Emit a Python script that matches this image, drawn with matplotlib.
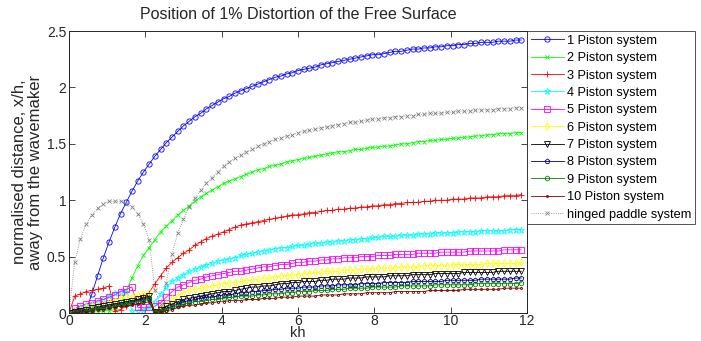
import numpy as np
import matplotlib
matplotlib.use("Agg")
import matplotlib.pyplot as plt

plt.rcParams['font.family'] = ['Liberation Sans', 'DejaVu Sans']

# kh sampled every 0.15 from 0 to 11.85
kh = np.round(np.arange(80) * 0.15, 2)

piston_1 = [0.00,
    0.00, 0.00, 0.02, 0.17, 0.33, 0.49, 0.63, 0.76, 0.88, 0.98,
    1.08, 1.17, 1.25, 1.32, 1.39, 1.45, 1.51, 1.56, 1.61, 1.66,
    1.70, 1.74, 1.77, 1.81, 1.84, 1.87, 1.90, 1.92, 1.95, 1.97,
    1.99, 2.01, 2.03, 2.05, 2.07, 2.09, 2.10, 2.12, 2.13, 2.15,
    2.16, 2.17, 2.18, 2.20, 2.21, 2.22, 2.23, 2.24, 2.25, 2.26,
    2.27, 2.28, 2.29, 2.29, 2.30, 2.31, 2.32, 2.32, 2.33, 2.34,
    2.34, 2.35, 2.35, 2.36, 2.36, 2.37, 2.37, 2.38, 2.38, 2.39,
    2.39, 2.40, 2.40, 2.40, 2.41, 2.41, 2.41, 2.42, 2.42]
piston_2 = [0.00,
    0.00, 0.00, 0.00, 0.01, 0.01, 0.02, 0.02, 0.03, 0.08, 0.20,
    0.31, 0.42, 0.51, 0.58, 0.65, 0.72, 0.77, 0.82, 0.87, 0.91,
    0.95, 0.99, 1.03, 1.06, 1.09, 1.12, 1.15, 1.17, 1.19, 1.21,
    1.23, 1.25, 1.27, 1.28, 1.30, 1.31, 1.32, 1.34, 1.35, 1.36,
    1.37, 1.38, 1.39, 1.40, 1.41, 1.42, 1.43, 1.43, 1.44, 1.45,
    1.45, 1.46, 1.47, 1.47, 1.48, 1.48, 1.49, 1.50, 1.50, 1.51,
    1.52, 1.52, 1.53, 1.53, 1.54, 1.54, 1.55, 1.55, 1.56, 1.56,
    1.57, 1.57, 1.58, 1.58, 1.59, 1.59, 1.59, 1.60, 1.60]
piston_3 = [0.00,
    0.15, 0.17, 0.19, 0.20, 0.21, 0.22, 0.24, 0.02, 0.03, 0.06,
    0.09, 0.12, 0.15, 0.18, 0.26, 0.33, 0.40, 0.45, 0.49, 0.53,
    0.56, 0.60, 0.63, 0.66, 0.68, 0.70, 0.72, 0.74, 0.76, 0.78,
    0.79, 0.80, 0.81, 0.82, 0.83, 0.84, 0.85, 0.86, 0.87, 0.87,
    0.88, 0.89, 0.89, 0.90, 0.91, 0.91, 0.92, 0.92, 0.93, 0.93,
    0.94, 0.94, 0.95, 0.95, 0.96, 0.96, 0.97, 0.97, 0.98, 0.98,
    0.98, 0.99, 0.99, 1.00, 1.00, 1.00, 1.01, 1.01, 1.01, 1.02,
    1.02, 1.02, 1.03, 1.03, 1.03, 1.04, 1.04, 1.04, 1.05]
piston_4 = [0.00,
    0.03, 0.05, 0.07, 0.08, 0.10, 0.12, 0.15, 0.18, 0.19, 0.19,
    0.02, 0.02, 0.03, 0.05, 0.10, 0.17, 0.23, 0.28, 0.31, 0.34,
    0.37, 0.39, 0.41, 0.43, 0.44, 0.46, 0.47, 0.48, 0.49, 0.51,
    0.52, 0.53, 0.54, 0.55, 0.56, 0.57, 0.58, 0.58, 0.59, 0.60,
    0.60, 0.61, 0.62, 0.62, 0.63, 0.63, 0.64, 0.64, 0.65, 0.65,
    0.66, 0.66, 0.67, 0.67, 0.68, 0.68, 0.68, 0.69, 0.69, 0.69,
    0.70, 0.70, 0.70, 0.71, 0.71, 0.71, 0.71, 0.72, 0.72, 0.72,
    0.72, 0.73, 0.73, 0.73, 0.73, 0.73, 0.74, 0.74, 0.74]
piston_5 = [0.00,
    0.04, 0.06, 0.08, 0.09, 0.11, 0.12, 0.14, 0.16, 0.19, 0.21,
    0.23, 0.05, 0.05, 0.05, 0.06, 0.09, 0.14, 0.19, 0.23, 0.25,
    0.27, 0.29, 0.30, 0.32, 0.33, 0.34, 0.35, 0.36, 0.37, 0.37,
    0.38, 0.39, 0.40, 0.41, 0.41, 0.42, 0.43, 0.43, 0.44, 0.45,
    0.45, 0.46, 0.46, 0.47, 0.47, 0.48, 0.48, 0.49, 0.49, 0.49,
    0.50, 0.50, 0.50, 0.51, 0.51, 0.51, 0.52, 0.52, 0.52, 0.52,
    0.53, 0.53, 0.53, 0.53, 0.54, 0.54, 0.54, 0.54, 0.54, 0.55,
    0.55, 0.55, 0.55, 0.55, 0.55, 0.56, 0.56, 0.56, 0.56]
piston_6 = [0.00,
    0.02, 0.03, 0.05, 0.06, 0.07, 0.08, 0.10, 0.11, 0.13, 0.14,
    0.15, 0.16, 0.17, 0.18, 0.02, 0.04, 0.08, 0.12, 0.15, 0.18,
    0.20, 0.21, 0.22, 0.23, 0.24, 0.25, 0.26, 0.27, 0.27, 0.28,
    0.29, 0.29, 0.30, 0.31, 0.31, 0.32, 0.33, 0.33, 0.34, 0.34,
    0.35, 0.35, 0.36, 0.36, 0.37, 0.37, 0.37, 0.38, 0.38, 0.38,
    0.39, 0.39, 0.39, 0.40, 0.40, 0.40, 0.40, 0.41, 0.41, 0.41,
    0.41, 0.42, 0.42, 0.42, 0.42, 0.42, 0.43, 0.43, 0.43, 0.43,
    0.43, 0.43, 0.44, 0.44, 0.44, 0.44, 0.44, 0.44, 0.45]
piston_7 = [0.00,
    0.01, 0.02, 0.03, 0.04, 0.05, 0.06, 0.07, 0.08, 0.09, 0.10,
    0.11, 0.12, 0.13, 0.15, 0.01, 0.03, 0.06, 0.08, 0.10, 0.12,
    0.13, 0.14, 0.15, 0.16, 0.17, 0.18, 0.19, 0.19, 0.20, 0.21,
    0.22, 0.23, 0.23, 0.24, 0.24, 0.25, 0.26, 0.26, 0.27, 0.27,
    0.28, 0.28, 0.28, 0.29, 0.29, 0.30, 0.30, 0.30, 0.31, 0.31,
    0.31, 0.32, 0.32, 0.32, 0.32, 0.33, 0.33, 0.33, 0.33, 0.34,
    0.34, 0.34, 0.34, 0.35, 0.35, 0.35, 0.35, 0.35, 0.36, 0.36,
    0.36, 0.36, 0.36, 0.36, 0.37, 0.37, 0.37, 0.37, 0.37]
piston_8 = [0.00,
    0.01, 0.02, 0.02, 0.03, 0.04, 0.05, 0.06, 0.07, 0.08, 0.09,
    0.10, 0.11, 0.12, 0.13, 0.01, 0.02, 0.04, 0.06, 0.08, 0.10,
    0.11, 0.12, 0.13, 0.14, 0.14, 0.15, 0.16, 0.16, 0.17, 0.18,
    0.18, 0.19, 0.19, 0.20, 0.20, 0.21, 0.21, 0.22, 0.22, 0.22,
    0.23, 0.23, 0.23, 0.24, 0.24, 0.24, 0.25, 0.25, 0.25, 0.25,
    0.26, 0.26, 0.26, 0.26, 0.27, 0.27, 0.27, 0.27, 0.27, 0.28,
    0.28, 0.28, 0.28, 0.28, 0.28, 0.29, 0.29, 0.29, 0.29, 0.29,
    0.29, 0.30, 0.30, 0.30, 0.30, 0.30, 0.30, 0.31, 0.31]
piston_9 = [0.00,
    0.01, 0.01, 0.02, 0.03, 0.04, 0.04, 0.05, 0.06, 0.07, 0.08,
    0.09, 0.10, 0.11, 0.12, 0.01, 0.02, 0.03, 0.05, 0.06, 0.08,
    0.09, 0.10, 0.10, 0.11, 0.12, 0.12, 0.13, 0.14, 0.14, 0.15,
    0.15, 0.15, 0.16, 0.16, 0.17, 0.17, 0.17, 0.18, 0.18, 0.19,
    0.19, 0.19, 0.20, 0.20, 0.20, 0.21, 0.21, 0.21, 0.22, 0.22,
    0.22, 0.22, 0.23, 0.23, 0.23, 0.23, 0.23, 0.24, 0.24, 0.24,
    0.24, 0.24, 0.24, 0.25, 0.25, 0.25, 0.25, 0.25, 0.25, 0.25,
    0.26, 0.26, 0.26, 0.26, 0.26, 0.26, 0.26, 0.26, 0.27]
piston_10 = [0.00,
    0.00, 0.01, 0.01, 0.02, 0.03, 0.03, 0.04, 0.05, 0.06, 0.06,
    0.07, 0.08, 0.09, 0.10, 0.00, 0.01, 0.02, 0.03, 0.05, 0.06,
    0.07, 0.07, 0.08, 0.09, 0.09, 0.10, 0.10, 0.11, 0.11, 0.11,
    0.12, 0.12, 0.12, 0.13, 0.13, 0.13, 0.14, 0.14, 0.14, 0.15,
    0.15, 0.15, 0.15, 0.16, 0.16, 0.16, 0.16, 0.17, 0.17, 0.17,
    0.17, 0.18, 0.18, 0.18, 0.18, 0.18, 0.19, 0.19, 0.19, 0.19,
    0.19, 0.19, 0.20, 0.20, 0.20, 0.20, 0.20, 0.20, 0.21, 0.21,
    0.21, 0.21, 0.21, 0.21, 0.21, 0.22, 0.22, 0.22, 0.22]
hinged = [0.00,
    0.45, 0.66, 0.79, 0.87, 0.93, 0.97, 0.99, 0.99, 0.99, 0.97,
    0.94, 0.88, 0.79, 0.65, 0.20, 0.08, 0.27, 0.52, 0.71, 0.83,
    0.94, 1.02, 1.09, 1.15, 1.20, 1.25, 1.30, 1.34, 1.37, 1.40,
    1.43, 1.45, 1.48, 1.50, 1.52, 1.54, 1.55, 1.57, 1.58, 1.60,
    1.61, 1.62, 1.63, 1.64, 1.65, 1.66, 1.67, 1.68, 1.69, 1.69,
    1.70, 1.71, 1.72, 1.72, 1.73, 1.73, 1.74, 1.74, 1.75, 1.75,
    1.76, 1.76, 1.77, 1.77, 1.77, 1.78, 1.78, 1.79, 1.79, 1.79,
    1.80, 1.80, 1.80, 1.80, 1.81, 1.81, 1.81, 1.82, 1.82]

series = [piston_1, piston_2, piston_3, piston_4, piston_5, piston_6,
          piston_7, piston_8, piston_9, piston_10, hinged]
labels = ['%d Piston system' % n for n in range(1, 11)] + ['hinged paddle system']
colors = ['#0000ff', '#00ff00', '#ff0000', '#00ffff', '#ff00ff', '#ffff00',
          '#000000', '#000080', '#008000', '#800000', '#808080']
markers = ['o', 'x', '+', '*', 's', 'd', 'v', 'p', 'h', '.', 'x']
msizes = [3.8, 3, 4.5, 4.5, 4, 4, 4, 3.5, 3.5, 3, 3]

fig = plt.figure(figsize=(7.01, 3.41), dpi=100)
ax = fig.add_axes([0.0984, 0.0821, 0.6534, 0.8269])

for y, lab, c, m, ms in zip(series, labels, colors, markers, msizes):
    ls = ':' if lab.startswith('hinged') else '-'
    ax.plot(kh, y, linestyle=ls, color=c, marker=m, markersize=ms,
            markerfacecolor='none', markeredgewidth=0.6, linewidth=0.6,
            label=lab)

ax.set_xlim(0, 12)
ax.set_ylim(0, 2.5)
ax.set_xticks([0, 2, 4, 6, 8, 10, 12])
ax.set_yticks([0, 0.5, 1, 1.5, 2, 2.5])
ax.set_yticklabels(['0', '0.5', '1', '1.5', '2', '2.5'])
ax.tick_params(direction='in', top=True, right=True, labelsize=10,
               length=4, width=0.6, colors='#262626', pad=2)
ax.tick_params(axis='x', pad=0.5)
for sp in ax.spines.values():
    sp.set_linewidth(0.7)
    sp.set_color('#262626')

ax.set_title('Position of 1% Distortion of the Free Surface', fontsize=11.5,
             color='#262626', pad=9)
ax.set_xlabel('kh', fontsize=10.5, color='#262626', labelpad=-1)
ax.set_ylabel('normalised distance, x/h,\naway from the wavemaker', fontsize=12,
              color='#262626', labelpad=3, linespacing=1.05)

leg = ax.legend(loc='upper left', bbox_to_anchor=(1.0, 1.0), fontsize=9.2,
                frameon=True, fancybox=False, borderaxespad=0,
                handlelength=2.6, handletextpad=0.2, labelspacing=0.42,
                borderpad=0.3)
leg.get_frame().set_edgecolor('#262626')
leg.get_frame().set_linewidth(0.7)

fig.savefig('out.png', dpi=100)
